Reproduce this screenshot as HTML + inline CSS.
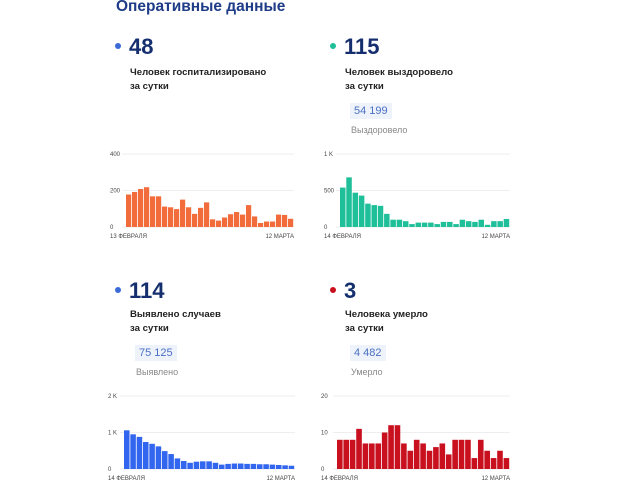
<!DOCTYPE html>
<html><head><meta charset="utf-8">
<style>
body{margin:0;width:640px;height:480px;background:#fff;font-family:"Liberation Sans","Noto Sans CJK SC",sans-serif;position:relative;overflow:hidden}
.a{position:absolute;white-space:nowrap}
.title{left:116px;top:-2px;font-size:15.5px;font-weight:bold;color:#1f3c88}
.num{font-size:22px;font-weight:bold;color:#152f6e}
.dot{width:6px;height:6px;border-radius:50%}
.lbl{font-size:9.6px;font-weight:bold;color:#222;line-height:14px}
.badge{font-size:11px;color:#4a6fc4;background:#eef3fb;padding:2px 4px}
.sub{font-size:9px;color:#888}
svg{position:absolute;left:0;top:0}
</style></head><body>
<div class="a title">Оперативные данные</div>

<div class="a dot" style="left:115px;top:43px;background:#3b6ad8"></div>
<div class="a num" style="left:129px;top:34px">48</div>
<div class="a lbl" style="left:130px;top:66px">Человек госпитализировано<br>за сутки</div>

<div class="a dot" style="left:330px;top:43px;background:#1fbf9a"></div>
<div class="a num" style="left:344px;top:34px">115</div>
<div class="a lbl" style="left:345px;top:66px">Человек выздоровело<br>за сутки</div>
<div class="a badge" style="left:350px;top:103px">54 199</div>
<div class="a sub" style="left:351px;top:125px">Выздоровело</div>

<div class="a dot" style="left:115px;top:287px;background:#3b6ad8"></div>
<div class="a num" style="left:129px;top:278px">114</div>
<div class="a lbl" style="left:130px;top:308px">Выявлено случаев<br>за сутки</div>
<div class="a badge" style="left:135px;top:345px">75 125</div>
<div class="a sub" style="left:136px;top:367px">Выявлено</div>

<div class="a dot" style="left:330px;top:287px;background:#c8101e"></div>
<div class="a num" style="left:344px;top:278px">3</div>
<div class="a lbl" style="left:345px;top:308px">Человека умерло<br>за сутки</div>
<div class="a badge" style="left:350px;top:345px">4 482</div>
<div class="a sub" style="left:351px;top:367px">Умерло</div>

<svg id="s" width="640" height="480"></svg>
<script>
const hospValues=[178,192,208,218,168,168,112,108,98,150,108,72,105,135,42,35,52,70,82,68,120,58,22,30,30,68,66,45];
const hospTicks=[0,200,400];const hospTickLabels=["0","200","400"];
const recValues=[540,680,470,430,320,300,290,180,100,100,80,40,60,60,60,40,70,70,40,100,80,70,100,30,80,80,110];
const recTicks=[0,500,1000];const recTickLabels=["0","500","1 K"];
const caseValues=[1060,950,880,740,690,620,490,410,290,220,170,200,210,210,170,120,140,150,150,140,140,130,130,120,110,100,90];
const caseTicks=[0,1000,2000];const caseTickLabels=["0","1 K","2 K"];
const deathValues=[8,8,8,11,7,7,7,10,12,12,7,5,8,7,5,6,7,4,8,8,8,3,8,5,3,5,3];
const deathTicks=[0,10,20];const deathTickLabels=["0","10","20"];
const s=document.getElementById('s');const NS='http://www.w3.org/2000/svg';
function mk(t,a){const e=document.createElementNS(NS,t);for(const k in a)e.setAttribute(k,a[k]);s.appendChild(e);return e;}
function chart(name,vals,ticks,tl,max,color,x0,x1,y0,yTop,startLbl){
  const ys=v=>y0-(v/max)*(y0-yTop);
  ticks.forEach((t,i)=>{
    const l=mk('line',{x1:x0-4,x2:x1,y1:ys(t),y2:ys(t),stroke:'#eee','stroke-width':1});
    
    const tx=mk('text',{x:x0-16,y:ys(t)+2,'font-size':6,fill:'#444'});tx.textContent=tl[i];
    
  });
  const w=(x1-x0)/vals.length;
  vals.forEach((v,i)=>{
    const r=mk('rect',{x:x0+i*w,y:ys(v),width:w-0.8,height:y0-ys(v),fill:color});
    
  });
  const a=mk('text',{x:x0-16,y:y0+11,'font-size':6,fill:'#444'});a.textContent=startLbl;
  
  const b=mk('text',{x:x1,y:y0+11,'font-size':6,fill:'#444','text-anchor':'end'});b.textContent='12 МАРТА';
  
}
chart('hospitalized-chart',hospValues,hospTicks,hospTickLabels,400,'#f26b3a',126,294,227,154,'13 ФЕВРАЛЯ');
chart('recovered-chart',recValues,recTicks,recTickLabels,1000,'#1fbf9a',340,510,227,154,'14 ФЕВРАЛЯ');
chart('cases-chart',caseValues,caseTicks,caseTickLabels,2000,'#3366ee',124,295,469,396,'14 ФЕВРАЛЯ');
chart('deaths-chart',deathValues,deathTicks,deathTickLabels,20,'#c8101e',337,510,469,396,'14 ФЕВРАЛЯ');
</script>
</body></html>
